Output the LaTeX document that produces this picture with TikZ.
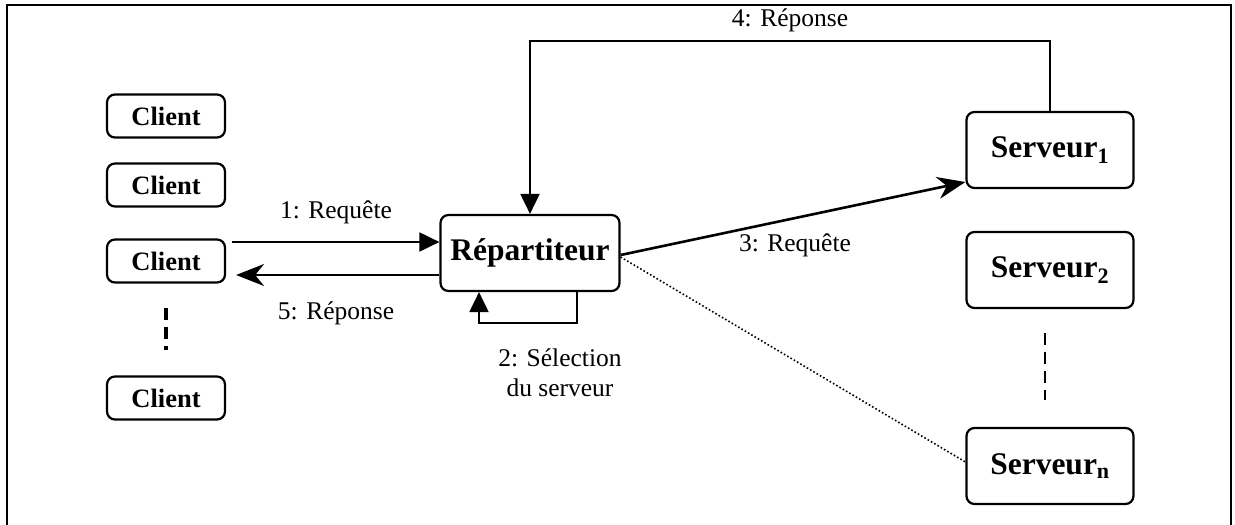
\documentclass[tikz,border=0pt]{standalone}
\usepackage{fontspec}
\setmainfont{Liberation Serif}
\usetikzlibrary{arrows.meta}
\begin{document}
\begin{tikzpicture}[x=1pt,y=-1pt,
  box/.style={draw,line width=2.2pt,rounded corners=8pt,inner sep=0pt,font=\bfseries\fontsize{26.5}{30}\selectfont},
  clientbox/.style={box,minimum width=118pt,minimum height=43pt},
  bigbox/.style={box,minimum height=76pt,font=\bfseries\fontsize{31.5}{36}\selectfont},
  lbl/.style={font=\fontsize{25.5}{29}\selectfont,inner sep=0pt},
  conn/.style={line width=2pt},
  tri/.style={-{Triangle[length=20pt,width=19pt]}},
  stl/.style={-{Stealth[length=28pt,width=22pt,inset=9pt]}},
  ellip/.style={line width=3.4pt,dash pattern=on 12pt off 7pt}]
  \useasboundingbox (0,0) rectangle (1235,525);
  % frame, open at the bottom
  \draw[line width=2pt] (7,525) -- (7,5) -- (1231,5) -- (1231,525);

  % clients
  \node[clientbox] (c1) at (166,116) {Client};
  \node[clientbox] (c2) at (166,185) {Client};
  \node[clientbox] (c3) at (166,261) {Client};
  \node[clientbox] (c4) at (166,398) {Client};
  \coordinate (cdA) at (166,308);
  \coordinate (cdB) at (166,350);
  \draw[ellip] (cdA) -- (cdB);

  % dispatcher
  \node[bigbox,minimum width=179pt] (rep) at (530,253) {Répartiteur};

  % servers
  \node[bigbox,minimum width=167pt] (s1) at (1050,150) {Serveur\textsubscript{1}};
  \node[bigbox,minimum width=167pt] (s2) at (1050,270) {Serveur\textsubscript{2}};
  \node[bigbox,minimum width=167pt] (sn) at (1050,466) {Serveur\textsubscript{n}};
  \coordinate (sdA) at (1045,333);
  \coordinate (sdB) at (1045,400);
  \draw[ellip,line width=2.8pt] (sdA) -- (sdB);

  % 1: request from client
  \draw[conn,tri] ([xshift=6pt,yshift=19pt]c3.east) -- ([yshift=19pt]c3.east -| rep.west);
  \node[lbl] (l1) at (336,212) {1: Requête};

  % 5: response to client
  \draw[conn,stl,shorten >=10pt] ([yshift=-22pt]rep.west) -- ([yshift=-22pt]rep.west -| c3.east);
  \node[lbl] (l5) at (336,313) {5: Réponse};

  % 2: server selection loop
  \draw[conn,tri] ([xshift=47pt]rep.south) -- ++(0,31) -| ([xshift=-51pt]rep.south);
  \node[lbl,align=center] (l2) at (560,373) {2: Sélection\\[1pt]du serveur};

  % 3: request forwarded to a server
  \draw[line width=2.6pt,stl] ([yshift=-2pt]rep.east) -- ([yshift=-32pt]s1.west);
  \node[lbl] (l3) at (795,245) {3: Requête};
  \draw[line width=1.6pt,dash pattern=on 1.6pt off 2.2pt] ([yshift=-4pt]rep.east) -- ([yshift=4pt]sn.west);

  % 4: response from the server
  \draw[conn,tri] (s1.north) -- ++(0,-70) -| (rep.north);
  \node[lbl] (l4) at (790,20) {4: Réponse};
\end{tikzpicture}
\end{document}
